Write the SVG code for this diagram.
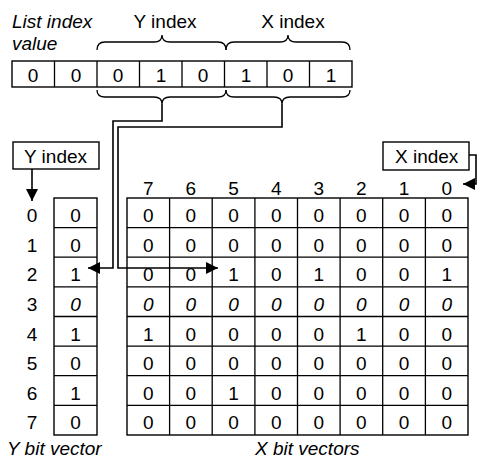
<svg xmlns="http://www.w3.org/2000/svg" width="480" height="461" viewBox="0 0 480 461">
<style>
text{font-family:"Liberation Sans",Arial,sans-serif;font-size:19px;fill:#000}
.c{text-anchor:middle}
.i{font-style:italic}
.box{fill:#fff;stroke:#000;stroke-width:1.4}
.ln{fill:none;stroke:#000;stroke-width:1.3}
.con{fill:none;stroke:#000;stroke-width:1.6}
</style>
<defs>
<marker id="ah" markerUnits="userSpaceOnUse" markerWidth="13" markerHeight="12" refX="12" refY="6" orient="auto">
<path d="M0,0 L12,6 L0,12 z" fill="#000"/>
</marker>
</defs>
<rect width="480" height="461" fill="#fff"/>

<g id="titles">
<text class="i" x="12" y="28">List index</text>
<text class="i" x="12" y="50">value</text>
<text class="c" x="165" y="28">Y index</text>
<text class="c" x="293" y="28">X index</text>
</g>

<g id="list-index">
<rect class="box" x="12" y="61" width="340" height="26"/>
<path class="ln" d="M54.5,61V87M97,61V87M139.5,61V87M182,61V87M224.5,61V87M267,61V87M309.5,61V87"/>
<g class="c">
<text x="33" y="82">0</text><text x="76" y="82">0</text><text x="118" y="82">0</text><text x="161" y="82">1</text>
<text x="203" y="82">0</text><text x="246" y="82">1</text><text x="288" y="82">0</text><text x="331" y="82">1</text>
</g>
<path class="ln" d="M97,50 Q97,42 105,42 H154 Q162,42 162,35 Q162,42 170,42 H218 Q226,42 226,50"/>
<path class="ln" d="M226,50 Q226,42 234,42 H280 Q288,42 288,35 Q288,42 296,42 H342 Q350,42 350,50"/>
<path class="ln" d="M97,90 Q97,97 105,97 H154 Q162,97 162,104 Q162,97 170,97 H218 Q226,97 226,90"/>
<path class="ln" d="M226,90 Q226,97 234,97 H274 Q282,97 282,104 Q282,97 290,97 H342 Q350,97 350,90"/>
</g>

<g id="y-index-box">
<rect class="box" x="13" y="142" width="86" height="27"/>
<text x="24" y="163">Y index</text>
</g>

<g id="x-index-box">
<rect class="box" x="383" y="142" width="86" height="28"/>
<text x="395" y="163">X index</text>
</g>

<g id="row-labels" class="c">
<text x="32" y="222">0</text><text x="32" y="251.6">1</text><text x="32" y="281.2">2</text><text x="32" y="310.9">3</text>
<text x="32" y="340.5">4</text><text x="32" y="370.1">5</text><text x="32" y="399.7">6</text><text x="32" y="429.4">7</text>
</g>

<g id="col-labels" class="c">
<text x="148.3" y="195">7</text><text x="190.9" y="195">6</text><text x="233.6" y="195">5</text><text x="276.2" y="195">4</text>
<text x="318.8" y="195">3</text><text x="361.4" y="195">2</text><text x="404.1" y="195">1</text><text x="446.7" y="195">0</text>
</g>

<g id="y-bit-vector">
<rect class="box" x="54" y="198" width="43" height="237"/>
<path class="ln" d="M54,227.6H97M54,257.2H97M54,286.9H97M54,316.5H97M54,346.1H97M54,375.7H97M54,405.4H97"/>
<g class="c">
<text x="75.5" y="222">0</text><text x="75.5" y="251.6">0</text><text x="75.5" y="281.2">1</text><text class="i" x="75.5" y="310.9">0</text>
<text x="75.5" y="340.5">1</text><text x="75.5" y="370.1">0</text><text x="75.5" y="399.7">1</text><text x="75.5" y="429.4">0</text>
</g>
<text class="i" x="7" y="455">Y bit vector</text>
</g>

<g id="x-bit-vectors">
<rect class="box" x="127" y="198" width="341" height="237"/>
<path class="ln" d="M169.6,198V435M212.2,198V435M254.9,198V435M297.5,198V435M340.1,198V435M382.7,198V435M425.4,198V435"/>
<path class="ln" d="M127,227.6H468M127,257.2H468M127,286.9H468M127,316.5H468M127,346.1H468M127,375.7H468M127,405.4H468"/>
<g class="c">
<g transform="translate(0,222)"><text x="148.3">0</text><text x="190.9">0</text><text x="233.6">0</text><text x="276.2">0</text><text x="318.8">0</text><text x="361.4">0</text><text x="404.1">0</text><text x="446.7">0</text></g>
<g transform="translate(0,251.6)"><text x="148.3">0</text><text x="190.9">0</text><text x="233.6">0</text><text x="276.2">0</text><text x="318.8">0</text><text x="361.4">0</text><text x="404.1">0</text><text x="446.7">0</text></g>
<g transform="translate(0,281.2)"><text x="148.3">0</text><text x="190.9">0</text><text x="233.6">1</text><text x="276.2">0</text><text x="318.8">1</text><text x="361.4">0</text><text x="404.1">0</text><text x="446.7">1</text></g>
<g class="i" transform="translate(0,310.9)"><text x="148.3">0</text><text x="190.9">0</text><text x="233.6">0</text><text x="276.2">0</text><text x="318.8">0</text><text x="361.4">0</text><text x="404.1">0</text><text x="446.7">0</text></g>
<g transform="translate(0,340.5)"><text x="148.3">1</text><text x="190.9">0</text><text x="233.6">0</text><text x="276.2">0</text><text x="318.8">0</text><text x="361.4">1</text><text x="404.1">0</text><text x="446.7">0</text></g>
<g transform="translate(0,370.1)"><text x="148.3">0</text><text x="190.9">0</text><text x="233.6">0</text><text x="276.2">0</text><text x="318.8">0</text><text x="361.4">0</text><text x="404.1">0</text><text x="446.7">0</text></g>
<g transform="translate(0,399.7)"><text x="148.3">0</text><text x="190.9">0</text><text x="233.6">1</text><text x="276.2">0</text><text x="318.8">0</text><text x="361.4">0</text><text x="404.1">0</text><text x="446.7">0</text></g>
<g transform="translate(0,429.4)"><text x="148.3">0</text><text x="190.9">0</text><text x="233.6">0</text><text x="276.2">0</text><text x="318.8">0</text><text x="361.4">0</text><text x="404.1">0</text><text x="446.7">0</text></g>
</g>
<text class="i" x="255" y="455">X bit vectors</text>
</g>

<g id="connectors">
<path class="con" d="M162,104 V121 H113 V268 H88" marker-end="url(#ah)"/>
<path class="con" d="M282,104 V127 H118 V268 H218" marker-end="url(#ah)"/>
<path class="con" d="M32,169 V201" marker-end="url(#ah)"/>
<path class="con" d="M469,155 H476 V184 H463" marker-end="url(#ah)"/>
</g>
</svg>
